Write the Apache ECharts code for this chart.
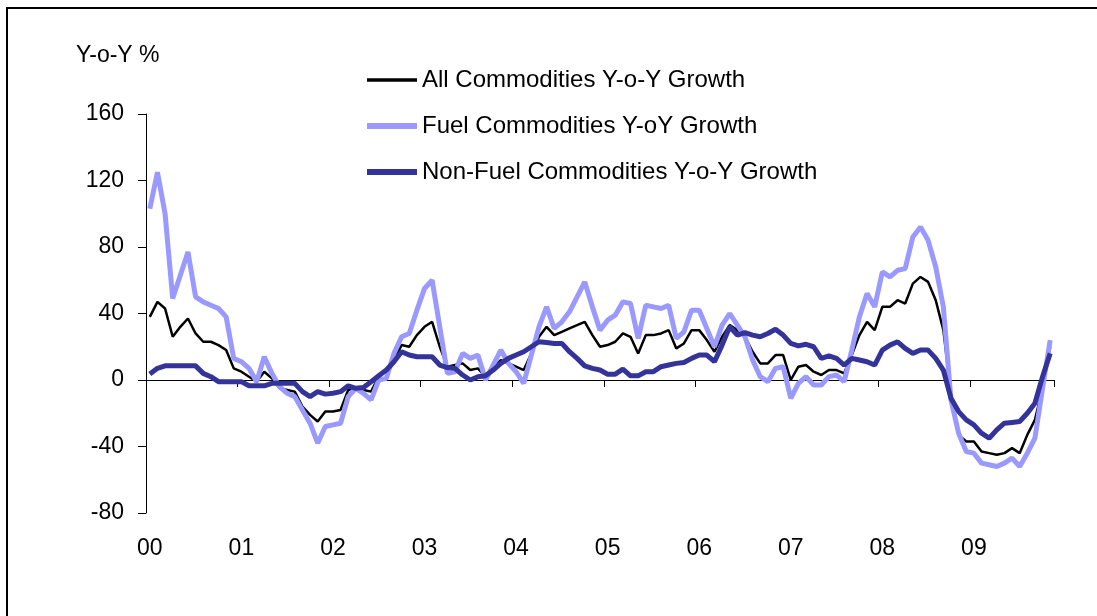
<!DOCTYPE html>
<html>
<head>
<meta charset="utf-8">
<script src="https://cdn.jsdelivr.net/npm/echarts@6/dist/echarts.min.js"></script>
<style>
  html, body { margin: 0; padding: 0; background: #fff; }
  #main { width: 1097px; height: 616px; }
</style>
</head>
<body>
<div id="main"></div>
<script>
// monthly, Jan 2000 .. Nov 2009
var yearLabels = ['00', '01', '02', '03', '04', '05', '06', '07', '08', '09'];
var seriesNames = ['All Commodities Y-o-Y Growth', 'Fuel Commodities Y-oY Growth', 'Non-Fuel Commodities Y-o-Y Growth'];

var allData = [
  38, 47, 43, 26, 32, 37, 28, 23, 23, 21, 18, 7,
  5, 2, -1, 5, 1, -5, -6, -7, -16, -21, -25, -19,
  -19, -18, -6, -5, -6, -7, 2, 6, 12, 21, 20, 27,
  32, 35, 20, 8, 9, 10, 6, 7, 2, 7, 12, 10,
  8, 6, 16, 26, 32, 27, 29, 31, 33, 35, 27, 20,
  21, 23, 28, 26, 16, 27, 27, 28, 30, 19, 22, 30,
  30, 24, 17, 26, 33, 30, 26, 17, 10, 10, 15, 15,
  0, 8, 9, 5, 3, 6, 6, 4, 15, 27, 35, 30,
  44, 44, 48, 46, 58, 62, 59, 48, 30, -8, -33, -37,
  -37, -43, -44, -45, -44, -41, -44, -33, -24, -5, 20
];
var fuelData = [
  103, 125, 100, 49, 63, 77, 50, 47, 45, 43, 38, 13,
  11, 7, -1, 14, 4, -4, -8, -10, -18, -26, -38, -28,
  -27, -26, -10, -5, -8, -12, 0, 1, 16, 26, 28, 42,
  55, 60, 32, 4, 5, 16, 13, 15, 0, 9, 18, 10,
  5, -2, 15, 32, 44, 31, 35, 41, 50, 59, 44, 30,
  36, 39, 47, 46, 25, 45, 44, 43, 45, 25, 29, 42,
  42, 31, 20, 33, 40, 33, 26, 12, 2, -1, 7, 8,
  -11, -2, 2, -3, -3, 2, 3, -1, 18, 38, 52, 44,
  65, 62, 66, 67, 86, 92, 84, 68, 44, -12, -32, -43,
  -44, -50, -51, -52, -50, -47, -52, -44, -35, -5, 24
];
var nonFuelData = [
  3.6, 7, 8.5, 8.5, 8.5, 8.5, 8.5, 4, 2, -1, -1, -1,
  -1, -3.5, -3.5, -3.5, -2, -2, -2, -2, -7, -10, -7, -8.5,
  -8, -7, -3.5, -5, -4.5, -1, 2.5, 6, 11, 17, 15, 14,
  14, 14, 9, 7.5, 7, 3, 0, 2, 2.5, 6, 10, 13,
  15, 17, 20, 23, 22.5, 22, 22, 17, 13, 8.5, 7, 6,
  3.5, 3.5, 6.5, 2.5, 2.5, 5, 5, 8, 9, 10, 10.5, 13,
  15, 15, 11, 21, 32, 27, 28.5, 27, 26, 28, 30.5, 27,
  22, 20.5, 21.5, 20, 13, 14.5, 13, 9, 13, 12, 11, 9,
  18, 21, 23, 19, 16, 18, 18, 13, 6, -11, -19, -24,
  -27, -32, -35, -30, -26, -25.5, -25, -20, -14, 2, 16
];

var months = [];
for (var i = 0; i < allData.length; i++) {
  months.push(yearLabels[Math.floor(i / 12)] + '-' + (i % 12 + 1));
}

var font = "'Liberation Sans', Arial, sans-serif";

var myChart = echarts.init(document.getElementById('main'));
var option = {
  animation: false,
  backgroundColor: '#ffffff',
  textStyle: { fontFamily: font, color: '#000' },
  grid: { left: 146, right: 43, top: 114, bottom: 103 },
  legend: {
    orient: 'vertical',
    left: 359,
    top: 63,
    itemWidth: 50,
    itemHeight: 14,
    itemGap: 22,
    itemStyle: { opacity: 0 },
    data: [
      { name: seriesNames[0], lineStyle: { width: 3.5 } },
      { name: seriesNames[1], lineStyle: { width: 6 } },
      { name: seriesNames[2], lineStyle: { width: 6 } }
    ],
    textStyle: { fontSize: 24, fontFamily: font, color: '#000', lineHeight: 24 }
  },
  graphic: [
    {
      type: 'rect',
      shape: { x: 7, y: 8, width: 1092, height: 640 },
      style: { fill: 'none', stroke: '#000', lineWidth: 2 },
      silent: true
    },
    {
      type: 'text',
      left: 76,
      top: 44,
      style: { text: 'Y-o-Y %', fontSize: 23, fontFamily: font, fill: '#000' }
    }
  ],
  xAxis: [
    {
      type: 'category',
      data: months,
      boundaryGap: true,
      position: 'bottom',
      axisLine: { show: false, onZero: false },
      axisTick: { show: false },
      axisLabel: {
        interval: 11,
        margin: 24,
        fontSize: 23,
        color: '#000',
        formatter: function (v, idx) { return yearLabels[Math.floor(idx / 12)]; }
      }
    },
    {
      type: 'category',
      data: months,
      boundaryGap: true,
      position: 'top',
      axisLine: { show: true, onZero: true, lineStyle: { color: '#000', width: 1 } },
      axisTick: { show: true, inside: true, interval: 11, length: 7, lineStyle: { color: '#000' } },
      axisLabel: { show: false }
    }
  ],
  yAxis: {
    type: 'value',
    min: -80,
    max: 160,
    interval: 40,
    axisLine: { show: true, lineStyle: { color: '#000', width: 1 } },
    axisTick: { show: true, length: 8, lineStyle: { color: '#000' } },
    splitLine: { show: false },
    axisLabel: { fontSize: 23, color: '#000', margin: 22 }
  },
  series: [
    {
      name: seriesNames[0],
      type: 'line',
      data: allData,
      symbol: 'none',
      lineStyle: { color: '#000000', width: 2.5 },
      itemStyle: { color: '#000000' }
    },
    {
      name: seriesNames[1],
      type: 'line',
      data: fuelData,
      symbol: 'none',
      lineStyle: { color: '#9999ff', width: 5 },
      itemStyle: { color: '#9999ff' }
    },
    {
      name: seriesNames[2],
      type: 'line',
      data: nonFuelData,
      symbol: 'none',
      lineStyle: { color: '#333399', width: 5 },
      itemStyle: { color: '#333399' }
    }
  ]
};
myChart.setOption(option);
</script>
</body>
</html>
